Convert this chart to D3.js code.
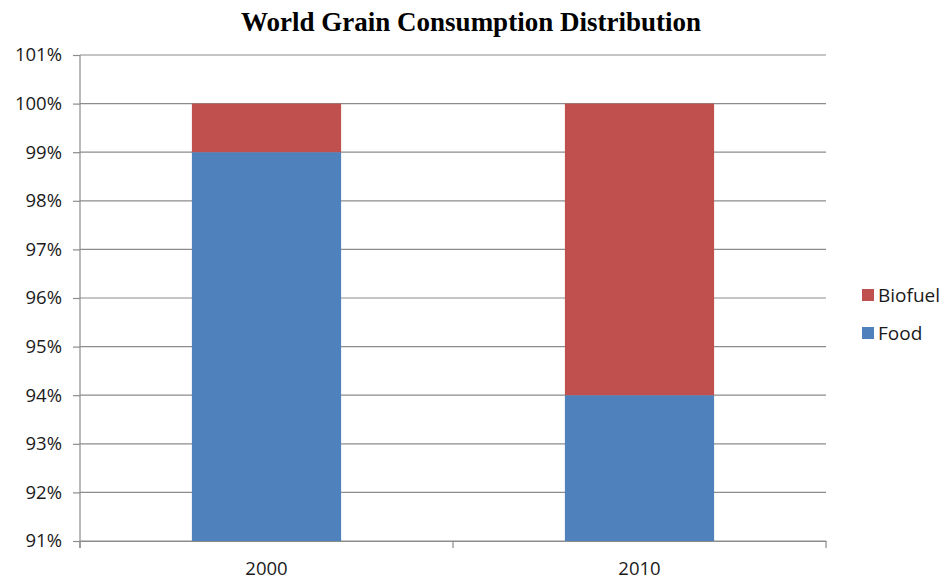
<!DOCTYPE html>
<html>
<head>
<script src="https://d3js.org/d3.v7.min.js"></script>
<style>
  body { margin: 0; background: #fff; }
  .tick text { font-family: "Open Sans", sans-serif; font-size: 18.5px; fill: #1a1a1a; }
  .legend text { font-family: "Open Sans", sans-serif; font-size: 19px; fill: #1a1a1a; }
</style>
</head>
<body>
<div id="chart"></div>
<script>
const years = ["2000", "2010"];
const food = [99, 94];
const biofuel = [1, 6];
const yTicks = [91, 92, 93, 94, 95, 96, 97, 98, 99, 100, 101];
const seriesNames = ["Food", "Biofuel"];
const seriesColors = ["#4f81bd", "#c0504d"];

const W = 944, H = 579;
const margin = { top: 55, right: 118, bottom: 38, left: 80 };
const width = W - margin.left - margin.right;
const height = H - margin.top - margin.bottom;

const svg = d3.select("#chart").append("svg")
    .attr("width", W).attr("height", H);

svg.append("text")
    .attr("x", 471).attr("y", 31)
    .attr("text-anchor", "middle")
    .attr("font-family", "'Liberation Serif', 'Times New Roman', serif")
    .attr("font-weight", "bold")
    .attr("font-size", 27)
    .text("World Grain Consumption Distribution");

const g = svg.append("g").attr("transform", `translate(${margin.left},${margin.top})`);

const x = d3.scaleBand().domain(years).range([0, width]).paddingInner(0.6).paddingOuter(0.3);
const y = d3.scaleLinear().domain([91, 101]).range([height, 0]);

// gridlines
g.append("g").selectAll("line").data(yTicks).enter().append("line")
    .attr("x1", 0).attr("x2", width)
    .attr("y1", d => y(d)).attr("y2", d => y(d))
    .attr("stroke", "#8c8c8c").attr("stroke-width", 1.2);

// stacked bars (clipped at axis minimum)
const rows = years.map((yr, i) => ({ year: yr, Food: food[i], Biofuel: biofuel[i] }));
const stack = d3.stack().keys(seriesNames)(rows);
stack.forEach((layer, li) => {
    g.append("g").attr("fill", seriesColors[li]).selectAll("rect").data(layer).enter().append("rect")
        .attr("x", d => x(d.data.year))
        .attr("width", x.bandwidth())
        .attr("y", d => y(d[1]))
        .attr("height", d => y(Math.max(d[0], 91)) - y(d[1]));
});

// y axis
const yAxis = g.append("g")
    .call(d3.axisLeft(y).tickValues(yTicks).tickFormat(d => d + "%").tickSize(7).tickPadding(11));
yAxis.select(".domain").attr("stroke", "#8c8c8c").attr("stroke-width", 1.2).attr("d", `M0,${height + 7}V0`);
yAxis.selectAll(".tick line").attr("stroke", "#8c8c8c").attr("stroke-width", 1.2);

// x axis
const xAxis = g.append("g").attr("transform", `translate(0,${height})`)
    .call(d3.axisBottom(x).tickSize(0).tickPadding(21));
xAxis.select(".domain").attr("stroke", "#8c8c8c").attr("stroke-width", 1.2);
const step = width / years.length;
g.append("g").attr("transform", `translate(0,${height})`)
    .selectAll("line").data(d3.range(years.length + 1)).enter().append("line")
    .attr("x1", d => d * step).attr("x2", d => d * step)
    .attr("y1", 0).attr("y2", 7)
    .attr("stroke", "#8c8c8c").attr("stroke-width", 1.2);

// legend
const legend = svg.append("g").attr("class", "legend")
    .selectAll("g").data(["Biofuel", "Food"]).enter().append("g")
    .attr("transform", (d, i) => `translate(862,${289 + i * 38})`);
legend.append("rect").attr("width", 12).attr("height", 12)
    .attr("fill", d => seriesColors[seriesNames.indexOf(d)]);
legend.append("text").attr("x", 16).attr("y", 12.5).text(d => d);
</script>
</body>
</html>
